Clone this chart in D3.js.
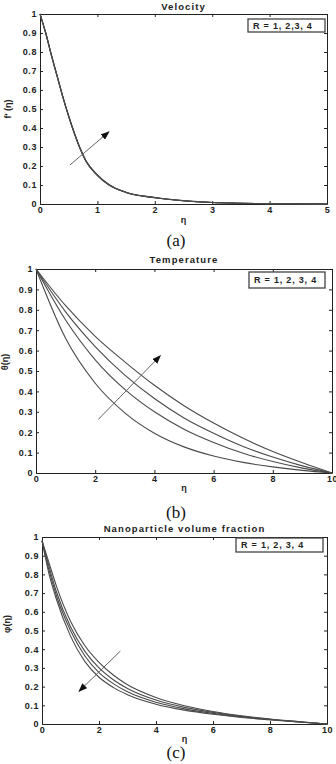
<!DOCTYPE html>
<html>
<head>
<meta charset="utf-8">
<script src="https://cdn.jsdelivr.net/npm/d3@7"></script>
<style>
  body { margin: 0; background: #fff; }
  svg text { font-family: 'Liberation Sans', Arial, sans-serif; }
</style>
</head>
<body>
<div id="chart-container"></div>
<script>
// ---- data ----
// (a) velocity f'(eta), the four R curves lie on top of each other
const etaVel = [0, 0.1, 0.2, 0.3, 0.4, 0.5, 0.6, 0.7, 0.8, 1.0, 1.2, 1.5, 2, 2.5, 3, 3.5, 4, 4.5, 5];
const velR1 = [1, 0.9, 0.78, 0.67, 0.56, 0.46, 0.37, 0.29, 0.225, 0.15, 0.10, 0.06, 0.033, 0.017, 0.008, 0.004, 0.002, 0.001, 0];
const velR2 = [1, 0.9, 0.781, 0.671, 0.561, 0.461, 0.371, 0.291, 0.226, 0.151, 0.101, 0.061, 0.033, 0.017, 0.008, 0.004, 0.002, 0.001, 0];
const velR3 = [1, 0.9, 0.782, 0.672, 0.562, 0.462, 0.372, 0.292, 0.227, 0.152, 0.102, 0.061, 0.034, 0.017, 0.008, 0.004, 0.002, 0.001, 0];
const velR4 = [1, 0.9, 0.783, 0.673, 0.563, 0.463, 0.373, 0.293, 0.228, 0.153, 0.103, 0.062, 0.034, 0.018, 0.008, 0.004, 0.002, 0.001, 0];

// (b) temperature theta(eta)
const etaTemp = [0, 1, 2, 3, 4, 5, 6, 7, 8, 9, 10];
const tempR1 = [1, 0.66, 0.44, 0.295, 0.195, 0.128, 0.083, 0.052, 0.03, 0.013, 0];
const tempR2 = [1, 0.75, 0.555, 0.41, 0.30, 0.215, 0.15, 0.097, 0.056, 0.024, 0];
const tempR3 = [1, 0.79, 0.62, 0.48, 0.365, 0.27, 0.195, 0.13, 0.078, 0.035, 0];
const tempR4 = [1, 0.82, 0.67, 0.545, 0.43, 0.33, 0.245, 0.17, 0.105, 0.05, 0];

// (c) nanoparticle volume fraction phi(eta)
const etaNano = [0, 0.25, 0.5, 1, 1.5, 2, 2.5, 3, 4, 5, 6, 7, 8, 9, 10];
const nanoR1 = [0.98, 0.86, 0.74, 0.55, 0.42, 0.33, 0.262, 0.21, 0.142, 0.098, 0.067, 0.044, 0.027, 0.013, 0];
const nanoR2 = [0.98, 0.84, 0.71, 0.52, 0.39, 0.30, 0.237, 0.19, 0.128, 0.089, 0.062, 0.041, 0.025, 0.012, 0];
const nanoR3 = [0.98, 0.82, 0.69, 0.50, 0.365, 0.275, 0.216, 0.172, 0.116, 0.081, 0.057, 0.038, 0.024, 0.011, 0];
const nanoR4 = [0.98, 0.80, 0.67, 0.47, 0.335, 0.25, 0.196, 0.157, 0.106, 0.074, 0.052, 0.035, 0.022, 0.011, 0];

// ticks
const yTicks = [0, 0.1, 0.2, 0.3, 0.4, 0.5, 0.6, 0.7, 0.8, 0.9, 1];
const xTicksA = [0, 1, 2, 3, 4, 5];
const xTicksBC = [0, 2, 4, 6, 8, 10];

// arrows (data coords, start -> end)
const arrowA = [[0.52, 0.205], [1.2, 0.38]];
const arrowB = [[2.1, 0.262], [4.2, 0.575]];
const arrowC = [[2.75, 0.39], [1.3, 0.175]];

const legendA = 'R = 1, 2,3, 4';
const legendBC = 'R = 1, 2, 3, 4';

// ---- layout ----
const panels = [
  {title: 'Velocity', ylab: 'f\' (η)', cap: '(a)', xMax: 5, xTicks: xTicksA,
    eta: etaVel, series: [velR1, velR2, velR3, velR4], arrow: arrowA, legend: legendA,
    left: 40, right: 327, top: 14, bottom: 204,
    titleY: 10, ylabX: 11, ylabY: 109, xlabY: 223, capY: 246,
    box: {x: 248, y: 19, w: 77, h: 13}},
  {title: 'Temperature', ylab: 'θ(η)', cap: '(b)', xMax: 10, xTicks: xTicksBC,
    eta: etaTemp, series: [tempR1, tempR2, tempR3, tempR4], arrow: arrowB, legend: legendBC,
    left: 36, right: 332, top: 269, bottom: 473,
    titleY: 263, ylabX: 8, ylabY: 362, xlabY: 491, capY: 518,
    box: {x: 249, y: 272, w: 76, h: 16}},
  {title: 'Nanoparticle volume fraction', ylab: 'φ(η)', cap: '(c)', xMax: 10, xTicks: xTicksBC,
    eta: etaNano, series: [nanoR1, nanoR2, nanoR3, nanoR4], arrow: arrowC, legend: legendBC,
    left: 42, right: 327, top: 537, bottom: 724,
    titleY: 532, ylabX: 10, ylabY: 624, xlabY: 742, capY: 758,
    box: {x: 236, y: 538, w: 87, h: 14}},
];

const svg = d3.select('#chart-container')
    .append('svg')
    .attr('width', 336)
    .attr('height', 764)
    .style('display', 'block')
    .style('background', '#fff');

svg.append('defs').append('marker')
    .attr('id', 'head')
    .attr('markerUnits', 'userSpaceOnUse')
    .attr('markerWidth', 9)
    .attr('markerHeight', 7)
    .attr('refX', 8)
    .attr('refY', 3.5)
    .attr('orient', 'auto')
    .append('path')
    .attr('d', 'M0,0 L9,3.5 L0,7 Z')
    .attr('fill', '#111');

const ink = '#222';

function styleAxis(g) {
  g.select('.domain').attr('stroke', ink).attr('stroke-width', 1);
  g.selectAll('.tick line').attr('stroke', ink);
  g.selectAll('.tick text')
      .attr('fill', ink)
      .attr('font-size', '9px')
      .attr('font-weight', 'bold')
      .attr('letter-spacing', '0.6px');
}

panels.forEach(function(p) {
  const x = d3.scaleLinear().domain([0, p.xMax]).range([p.left, p.right]);
  const y = d3.scaleLinear().domain([0, 1]).range([p.bottom, p.top]);

  // axes, ticks pointing inward on all four sides
  svg.append('g')
      .attr('transform', `translate(0,${p.bottom})`)
      .call(d3.axisBottom(x).tickValues(p.xTicks).tickSize(-3).tickSizeOuter(0)
          .tickPadding(3).tickFormat(d3.format('d')))
      .call(styleAxis);
  svg.append('g')
      .attr('transform', `translate(0,${p.top})`)
      .call(d3.axisTop(x).tickValues(p.xTicks).tickSize(-3).tickSizeOuter(0).tickFormat(''))
      .call(styleAxis);
  svg.append('g')
      .attr('transform', `translate(${p.left},0)`)
      .call(d3.axisLeft(y).tickValues(yTicks).tickSize(-3).tickSizeOuter(0)
          .tickPadding(3).tickFormat((d) => String(d)))
      .call(styleAxis);
  svg.append('g')
      .attr('transform', `translate(${p.right},0)`)
      .call(d3.axisRight(y).tickValues(yTicks).tickSize(-3).tickSizeOuter(0).tickFormat(''))
      .call(styleAxis);

  // curves
  const line = d3.line()
      .x((d) => x(d[0]))
      .y((d) => y(d[1]))
      .curve(d3.curveMonotoneX);
  p.series.forEach(function(s) {
    svg.append('path')
        .datum(p.eta.map((e, i) => [e, s[i]]))
        .attr('d', line)
        .attr('fill', 'none')
        .attr('stroke', '#4a4a4a')
        .attr('stroke-width', 1.1);
  });

  // arrow
  svg.append('line')
      .attr('x1', x(p.arrow[0][0]))
      .attr('y1', y(p.arrow[0][1]))
      .attr('x2', x(p.arrow[1][0]))
      .attr('y2', y(p.arrow[1][1]))
      .attr('stroke', '#666')
      .attr('stroke-width', 1)
      .attr('marker-end', 'url(#head)');

  // legend box
  svg.append('rect')
      .attr('x', p.box.x)
      .attr('y', p.box.y)
      .attr('width', p.box.w)
      .attr('height', p.box.h)
      .attr('fill', '#fff')
      .attr('stroke', '#444')
      .attr('stroke-width', 1.3);
  svg.append('text')
      .attr('x', p.box.x + 5)
      .attr('y', p.box.y + p.box.h / 2 + 3.3)
      .attr('font-size', '9px')
      .attr('font-weight', 'bold')
      .attr('letter-spacing', '0.8px')
      .attr('fill', ink)
      .text(p.legend);

  // title and labels
  svg.append('text')
      .attr('x', (p.left + p.right) / 2)
      .attr('y', p.titleY)
      .attr('text-anchor', 'middle')
      .attr('font-size', '9.5px')
      .attr('font-weight', 'bold')
      .attr('letter-spacing', '1.1px')
      .attr('fill', ink)
      .text(p.title);
  svg.append('text')
      .attr('x', (p.left + p.right) / 2)
      .attr('y', p.xlabY)
      .attr('text-anchor', 'middle')
      .attr('font-size', '9px')
      .attr('font-weight', 'bold')
      .attr('fill', ink)
      .text('η');
  svg.append('text')
      .attr('transform', `translate(${p.ylabX},${p.ylabY}) rotate(-90)`)
      .attr('text-anchor', 'middle')
      .attr('font-size', '9px')
      .attr('font-weight', 'bold')
      .attr('fill', ink)
      .text(p.ylab);
  svg.append('text')
      .attr('x', 176)
      .attr('y', p.capY)
      .attr('text-anchor', 'middle')
      .style('font-family', '\'Liberation Serif\', \'Times New Roman\', serif')
      .attr('font-size', '17px')
      .attr('fill', '#111')
      .text(p.cap);
});
</script>
</body>
</html>
